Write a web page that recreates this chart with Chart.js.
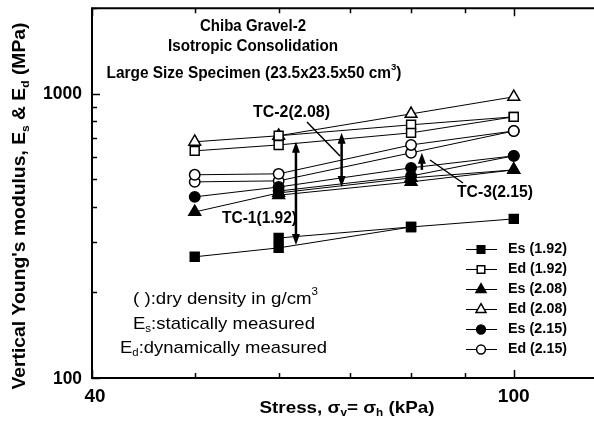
<!DOCTYPE html>
<html>
<head>
<meta charset="utf-8">
<script src="https://cdn.jsdelivr.net/npm/chart.js@4/dist/chart.umd.min.js"></script>
<style>
    html, body { margin: 0; padding: 0; background: #fff; overflow: hidden; }
    #wrap { width: 594px; height: 422px; overflow: hidden; position: relative; }
    #wrap canvas { position: absolute; left: 0; top: 0; }
</style>
</head>
<body>
<div id="wrap"><canvas id="youngChart" width="606" height="422"></canvas></div>
<script>
// stress levels (kPa)
const stress = [50, 60, 80, 100];

// moduli (MPa), second arrays = repeated measurements at the same stress
const es192 = [267, 287, 340, 363];
const es192b = [null, 311, 340, null];
const ed192 = [630, 661, 729, 830];
const ed192b = [null, 712, 778, 830];
const es208 = [384, 448, 506, 540];
const es208b = [null, 440, 490, 540];
const ed208 = [678, 712, 850, 976];
const es215 = [434, 470, 549, 605];
const es215b = [null, 455, 514, 605];
const ed215 = [519, 523, 661, 740];
const ed215b = [490, 494, 620, 740];

const seriesNames = ['Es (1.92)', 'Ed (1.92)', 'Es (2.08)', 'Ed (2.08)', 'Es (2.15)', 'Ed (2.15)'];

const xTicks = [40, 50, 60, 70, 80, 90, 100];
const xLabelled = [40, 100];
const yTicks = [100, 200, 300, 400, 500, 600, 700, 800, 900, 1000, 2000];
const yLabelled = [100, 1000];

(function () {
    const mainSets = [es192, ed192, es208, ed208, es215, ed215];
    const extraSets = [es192b, ed192b, es208b, null, es215b, ed215b];
    const shapes = ['rect', 'rect', 'triangle', 'triangle', 'circle', 'circle'];
    const filled = [true, false, true, false, true, false];
    const radius = { rect: 6.3, triangle: 6.8, circle: 5.2 };

    function pts(vals) {
        return stress.map((x, i) => ({ x: x, y: vals[i] }));
    }

    function style(i) {
        return {
            borderColor: '#000',
            borderWidth: 1,
            pointStyle: shapes[i],
            pointRadius: radius[shapes[i]],
            pointBackgroundColor: filled[i] ? '#000' : '#fff',
            pointBorderColor: '#000',
            pointBorderWidth: 1.5,
            showLine: true,
            fill: false,
            tension: 0,
            spanGaps: false
        };
    }

    const datasets = [];
    mainSets.forEach((vals, i) => {
        datasets.push(Object.assign({ label: seriesNames[i], data: pts(vals) }, style(i)));
        if (extraSets[i]) {
            datasets.push(Object.assign({ label: seriesNames[i] + ' b', data: pts(extraSets[i]) }, style(i)));
        }
    });

    const FONT = '"Liberation Sans", Arial, sans-serif';

    // text runs: [text, 0 normal | 1 subscript | 2 superscript], squeezed to a width
    function drawRuns(ctx, runs, x, y, size, weight, width, align) {
        const font = s => weight + ' ' + s + 'px ' + FONT;
        let natural = 0;
        ctx.save();
        runs.forEach(r => {
            ctx.font = font(r[1] ? size * 0.62 : size);
            natural += ctx.measureText(r[0]).width;
        });
        const k = width / natural;
        const x0 = align === 'left' ? x : align === 'right' ? x - width : x - width / 2;
        ctx.translate(x0, y);
        ctx.scale(k, 1);
        ctx.textBaseline = 'middle';
        ctx.textAlign = 'left';
        ctx.fillStyle = '#000';
        let cx = 0;
        runs.forEach(r => {
            ctx.font = font(r[1] ? size * 0.62 : size);
            const dy = r[1] === 1 ? size * 0.32 : r[1] === 2 ? -size * 0.4 : 0;
            ctx.fillText(r[0], cx, dy);
            cx += ctx.measureText(r[0]).width;
        });
        ctx.restore();
    }

    function arrowHead(ctx, x, y, dir) {
        // dir: -1 points up, 1 points down
        ctx.beginPath();
        ctx.moveTo(x, y);
        ctx.lineTo(x - 4, y - dir * 11);
        ctx.lineTo(x + 4, y - dir * 11);
        ctx.closePath();
        ctx.fill();
    }

    // vertical arrows in data space: [stress, from, to, heads]
    const tcArrows = [
        [62.3, 294, 678, 2],
        [68.8, 470, 729, 2],
        [81.9, 540, 620, 1]
    ];

    const decor = {
        id: 'decor',
        beforeDatasetsDraw(chart) {
            const ctx = chart.ctx;
            const a = chart.chartArea;
            const xs = chart.scales.x;
            const ys = chart.scales.y;
            ctx.save();
            ctx.strokeStyle = '#000';
            ctx.lineWidth = 1.5;
            xTicks.forEach(v => {
                const px = Math.round(xs.getPixelForValue(v)) + 0.5;
                const len = xLabelled.includes(v) ? 8 : 5;
                ctx.beginPath();
                ctx.moveTo(px, a.bottom); ctx.lineTo(px, a.bottom - len);
                ctx.moveTo(px, a.top); ctx.lineTo(px, a.top + len);
                ctx.stroke();
            });
            yTicks.forEach(v => {
                const py = Math.round(ys.getPixelForValue(v)) + 0.5;
                const len = yLabelled.includes(v) ? 8 : 5;
                ctx.beginPath();
                ctx.moveTo(a.left, py); ctx.lineTo(a.left + len, py);
                ctx.stroke();
            });
            ctx.lineWidth = 2;
            ctx.beginPath();
            ctx.moveTo(a.right, a.top); ctx.lineTo(a.left, a.top);
            ctx.lineTo(a.left, a.bottom); ctx.lineTo(a.right, a.bottom);
            ctx.stroke();
            ctx.restore();
        },
        afterDatasetsDraw(chart) {
            const ctx = chart.ctx;
            const xs = chart.scales.x;
            const ys = chart.scales.y;
            ctx.save();
            ctx.strokeStyle = '#000';
            ctx.fillStyle = '#000';

            // TC arrows
            tcArrows.forEach(t => {
                const px = xs.getPixelForValue(t[0]);
                const yLow = ys.getPixelForValue(t[1]);
                const yHigh = ys.getPixelForValue(t[2]);
                ctx.lineWidth = 2.5;
                ctx.beginPath();
                ctx.moveTo(px, yLow - (t[3] === 2 ? 6 : 0));
                ctx.lineTo(px, yHigh + 6);
                ctx.stroke();
                arrowHead(ctx, px, yHigh, -1);
                if (t[3] === 2) arrowHead(ctx, px, yLow, 1);
            });

            // leader lines
            ctx.lineWidth = 1.5;
            ctx.beginPath();
            ctx.moveTo(307, 122); ctx.lineTo(340, 156);
            ctx.moveTo(463, 183); ctx.lineTo(430, 160);
            ctx.stroke();

            // legend
            mainSets.forEach((vals, i) => {
                const y = 249 + i * 20;
                ctx.strokeStyle = '#000';
                ctx.lineWidth = 1;
                ctx.beginPath();
                ctx.moveTo(466, y + 0.5); ctx.lineTo(497, y + 0.5);
                ctx.stroke();
                ctx.fillStyle = filled[i] ? '#000' : '#fff';
                ctx.lineWidth = 1.5;
                Chart.helpers.drawPoint(ctx, {
                    pointStyle: shapes[i],
                    rotation: 0,
                    radius: radius[shapes[i]] * 0.85,
                    borderWidth: 1.5
                }, 481, y + 0.5);
                ctx.fillStyle = '#000';
                drawRuns(ctx, [[seriesNames[i], 0]], 508, y, 14, 'bold', 59, 'left');
            });

            // titles
            drawRuns(ctx, [['Chiba Gravel-2', 0]], 253, 27, 16, 'bold', 106, 'center');
            drawRuns(ctx, [['Isotropic Consolidation', 0]], 253, 47, 16, 'bold', 170, 'center');
            drawRuns(ctx, [['Large Size Specimen (23.5x23.5x50 cm', 0], ['3', 2], [')', 0]], 254, 74, 16, 'bold', 295, 'center');

            // TC labels
            drawRuns(ctx, [['TC-2(2.08)', 0]], 253, 113, 16, 'bold', 77, 'left');
            drawRuns(ctx, [['TC-1(1.92)', 0]], 222, 219, 16, 'bold', 75, 'left');
            drawRuns(ctx, [['TC-3(2.15)', 0]], 457, 193, 16, 'bold', 76, 'left');

            // notes
            drawRuns(ctx, [['( ):dry density in g/cm', 0], ['3', 2]], 133, 299, 17, 'normal', 185, 'left');
            drawRuns(ctx, [['E', 0], ['s', 1], [':statically measured', 0]], 133, 324, 17, 'normal', 182, 'left');
            drawRuns(ctx, [['E', 0], ['d', 1], [':dynamically measured', 0]], 120, 348, 17, 'normal', 207, 'left');

            // tick labels
            drawRuns(ctx, [['1000', 0]], 82, ys.getPixelForValue(1000), 18, 'bold', 39, 'right');
            drawRuns(ctx, [['100', 0]], 82, ys.getPixelForValue(100) + 1, 18, 'bold', 29, 'right');
            drawRuns(ctx, [['40', 0]], xs.getPixelForValue(40) + 3, 397, 18, 'bold', 21, 'center');
            drawRuns(ctx, [['100', 0]], xs.getPixelForValue(100), 397, 18, 'bold', 32, 'center');

            // axis titles
            drawRuns(ctx, [['Stress, \u03c3', 0], ['v', 1], ['= \u03c3', 0], ['h', 1], [' (kPa)', 0]], 347, 408, 17, 'bold', 175, 'center');
            ctx.save();
            ctx.translate(20, 206);
            ctx.rotate(-Math.PI / 2);
            drawRuns(ctx, [["Vertical Young's modulus, E", 0], ['s', 1], [' & E', 0], ['d', 1], [' (MPa)', 0]], 0, 0, 18, 'bold', 367, 'center');
            ctx.restore();

            ctx.restore();
        }
    };

    const ctx = document.getElementById('youngChart').getContext('2d');
    new Chart(ctx, {
        type: 'line',
        data: { datasets: datasets },
        options: {
            responsive: false,
            animation: false,
            layout: { padding: { left: 92, top: 7, right: 5, bottom: 44 } },
            plugins: {
                legend: { display: false },
                tooltip: { enabled: false }
            },
            scales: {
                x: { type: 'logarithmic', min: 40, max: 120, display: false },
                y: { type: 'logarithmic', min: 100, max: 2000, display: false }
            }
        },
        plugins: [decor]
    });
})();
</script>
</body>
</html>
